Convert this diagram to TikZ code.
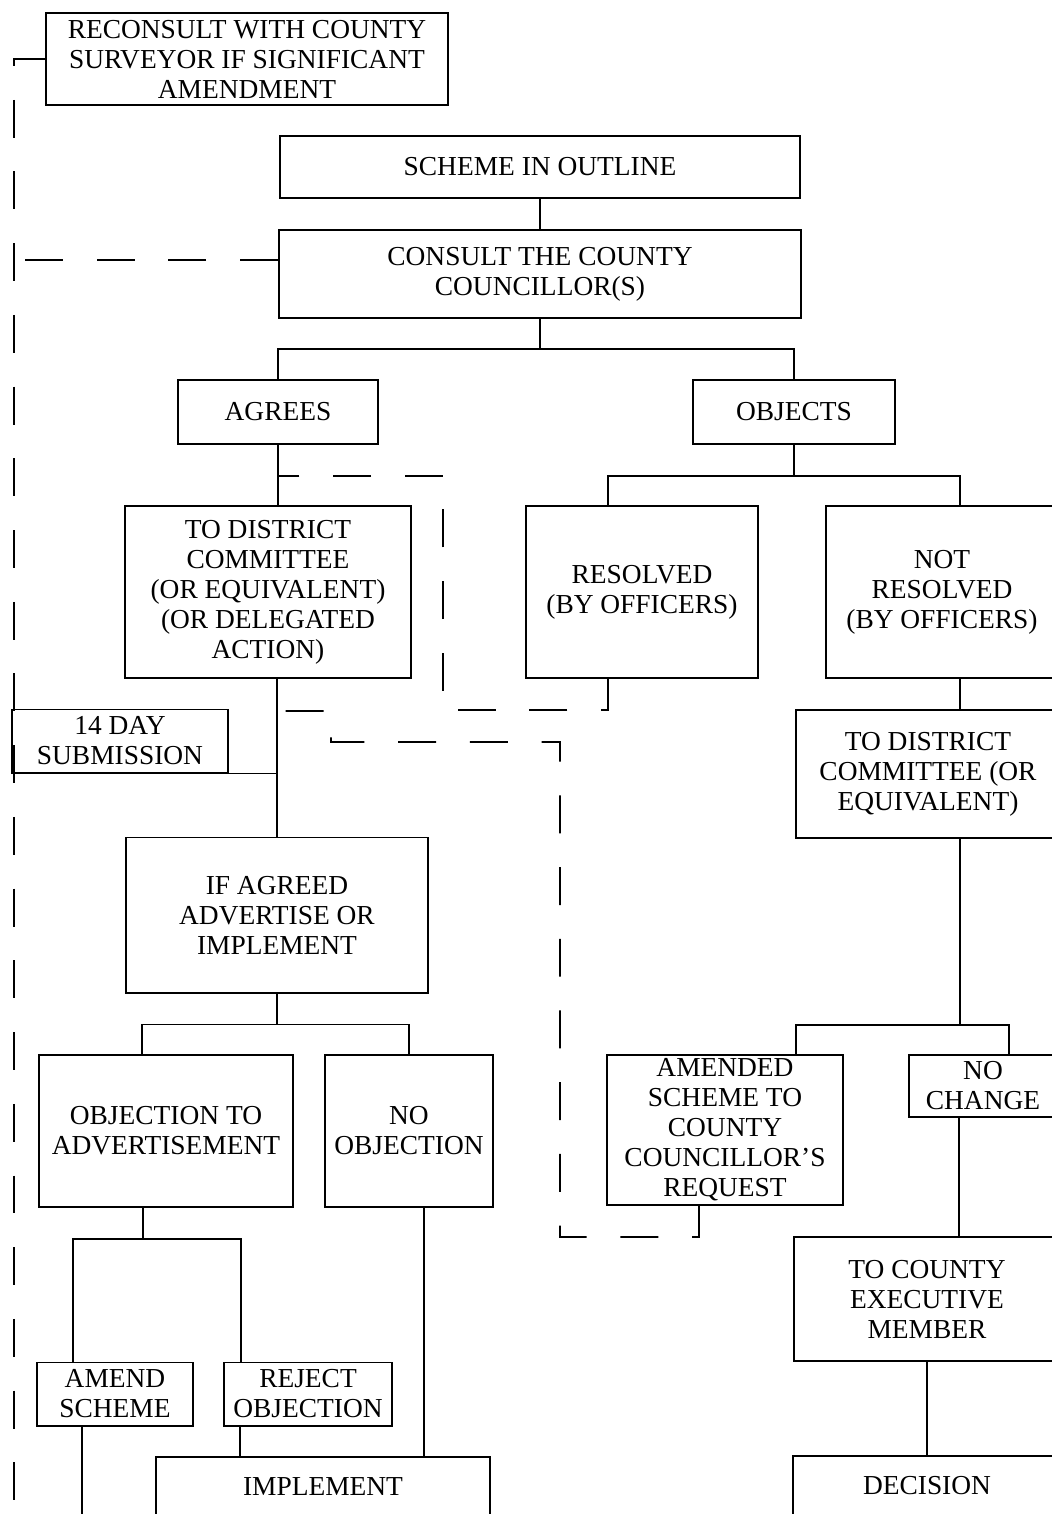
\documentclass[tikz,border=0pt]{standalone}
\usepackage{fontspec}
\setmainfont{Liberation Serif}
\usetikzlibrary{calc}
\tikzset{
stage/.style={rectangle,draw=black,line width=1.4pt,inner sep=0pt,align=center,font=\fontsize{19.5}{21.3}\selectfont},
link/.style={line width=1.1pt,draw=black},
backlink/.style={link,dash pattern=on 27pt off 24pt},
}

\begin{document}
\begin{tikzpicture}[x=0.025cm,y=-0.025cm]
\useasboundingbox (0,0) rectangle (1052,1514);
\clip (0,0) rectangle (1052,1514);

\node[stage,minimum width=10.05cm,minimum height=2.3cm] (reconsult) at (247,59) {RECONSULT WITH COUNTY\\SURVEYOR IF SIGNIFICANT\\AMENDMENT};
\node[stage,minimum width=13cm,minimum height=1.55cm] (outline) at (540,167) {SCHEME IN OUTLINE};
\node[stage,minimum width=13.05cm,minimum height=2.2cm] (consult) at (540,274) {CONSULT THE COUNTY\\COUNCILLOR(S)};
\node[stage,minimum width=5cm,minimum height=1.6cm] (agrees) at (278,412) {AGREES};
\node[stage,minimum width=5.05cm,minimum height=1.6cm] (objects) at (794,412) {OBJECTS};
\node[stage,minimum width=7.125cm,minimum height=4.3cm] (districtA) at (268,592) {TO DISTRICT\\COMMITTEE\\(OR EQUIVALENT)\\(OR DELEGATED\\ACTION)};
\node[stage,minimum width=5.775cm,minimum height=4.3cm] (resolved) at (642,592) {RESOLVED\\(BY OFFICERS)};
\node[stage,minimum width=5.8cm,minimum height=4.3cm] (notresolved) at (942,592) {NOT\\RESOLVED\\(BY OFFICERS)};
\node[stage,minimum width=5.375cm,minimum height=1.575cm] (fourteen) at (120,741) {14 DAY\\SUBMISSION};
\node[stage,minimum width=6.575cm,minimum height=3.2cm] (districtB) at (928,774) {TO DISTRICT\\COMMITTEE (OR\\EQUIVALENT)};
\node[stage,minimum width=7.525cm,minimum height=3.875cm] (advertise) at (277,915) {IF AGREED\\ADVERTISE OR\\IMPLEMENT};
\node[stage,minimum width=6.35cm,minimum height=3.8cm] (objection) at (166,1131) {OBJECTION TO\\ADVERTISEMENT};
\node[stage,minimum width=4.2cm,minimum height=3.8cm] (noobjection) at (409,1131) {NO\\OBJECTION};
\node[stage,minimum width=5.9cm,minimum height=3.75cm] (amended) at (725,1130) {AMENDED\\SCHEME TO\\COUNTY\\COUNCILLOR'S\\REQUEST};
\node[stage,minimum width=3.7cm,minimum height=1.55cm] (nochange) at (983,1086) {NO\\CHANGE};
\node[stage,minimum width=6.65cm,minimum height=3.1cm] (executive) at (927,1299) {TO COUNTY\\EXECUTIVE\\MEMBER};
\node[stage,minimum width=6.7cm,minimum height=1.5cm] (decision) at (927,1486) {DECISION};
\node[stage,minimum width=3.875cm,minimum height=1.575cm] (amend) at (115,1394) {AMEND\\SCHEME};
\node[stage,minimum width=4.2cm,minimum height=1.575cm] (reject) at (308,1394) {REJECT\\OBJECTION};
\node[stage,minimum width=8.325cm,minimum height=1.5cm] (implement) at (323,1487) {IMPLEMENT};

\coordinate (trunkjoin) at ($(advertise.north |- districtA.south)+(0,32)$);
\coordinate (amendexit) at ($(amend.south)+(-33,120)$);
\coordinate (leftexit) at (14,1530);

\draw[link] (outline.south) -- (consult.north);
\draw[link] (consult.south) |- ($(consult.south)!0.5!(agrees.north)$) -| (agrees.north);
\draw[link] (consult.south) |- ($(consult.south)!0.5!(objects.north)$) -| (objects.north);
\draw[link] (agrees.south) -- (agrees.south |- districtA.north);
\draw[link] (objects.south) -- ++(0,31) -| ($(resolved.north)+(-34,0)$);
\draw[link] (objects.south) -- ++(0,31) -| ($(notresolved.north)+(18,0)$);
\draw[link] ($(notresolved.south)+(18,0)$) coordinate (nrout) -- (nrout |- districtB.north);
\draw[link] (advertise.north |- districtA.south) -- (advertise.north);
\draw[link] (fourteen.south east) -- (fourteen.south east -| advertise.north);
\draw[link] (advertise.south) -- ++(0,31) -| ($(objection.north)+(-24,0)$);
\draw[link] (advertise.south) -- ++(0,31) -| (noobjection.north);
\draw[link] ($(objection.south)+(-23,0)$) -- ++(0,31) -| ($(amend.north)+(-42,0)$);
\draw[link] ($(objection.south)+(-23,0)$) -- ++(0,31) -| ($(reject.north)+(-67,0)$);
\draw[link] ($(amend.south)+(-33,0)$) -- (amendexit);
\draw[link] ($(reject.south)+(-68,0)$) coordinate (rjout) -- (rjout |- implement.north);
\draw[link] ($(noobjection.south)+(15,0)$) coordinate (noout) -- (noout |- implement.north);
\draw[link] ($(districtB.south)+(32,0)$) -- ++(0,186) -| ($(amended.north)+(71,0)$);
\draw[link] ($(districtB.south)+(32,0)$) -- ++(0,186) -| ($(nochange.north)+(26,0)$);
\draw[link] ($(nochange.south)+(-24,0)$) coordinate (ncout) -- (ncout |- executive.north);
\draw[link] (executive.south) -- (decision.north);

\draw[backlink] (reconsult.west) -| (leftexit);
\draw[backlink] ($(consult.west)+(0,-14)$) coordinate (csout) -- (csout -| leftexit);
\draw[backlink] ($(resolved.south)+(-34,0)$) -- ++(0,31) -| ($(agrees.south)+(165,31)$) -- ($(agrees.south)+(0,31)$);
\draw[backlink] ($(amended.south)+(-26,0)$) -- ++(0,31) -- ++(-139,0) -- ++(0,-495) -- ++(-229,0) -- ++(0,-31) -- (trunkjoin);

\end{tikzpicture}
\end{document}
